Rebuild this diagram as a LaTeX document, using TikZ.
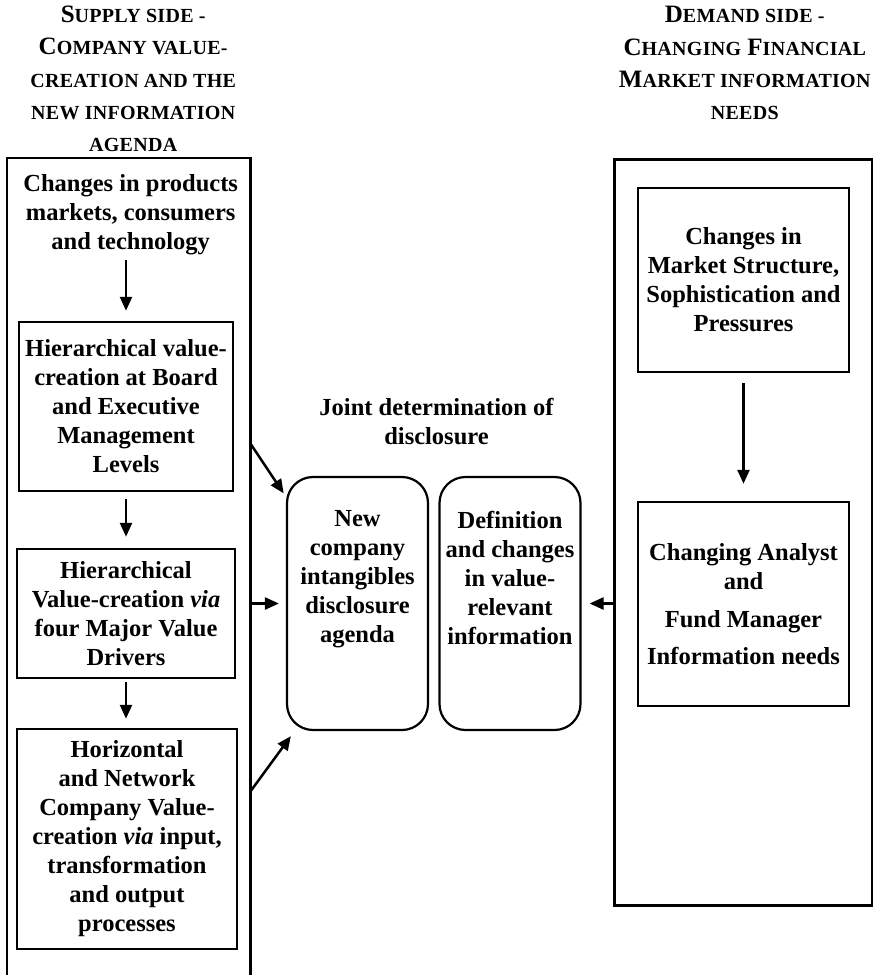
\documentclass[tikz,border=0pt]{standalone}
\usepackage{fontspec}
\setmainfont{Liberation Serif}
\usepackage{tikz}
\usetikzlibrary {arrows.meta,
                 positioning,
                 calc}
\newcommand{\capsm}[1]{{\fontsize{20pt}{32.3pt}\selectfont\addfontfeature{LetterSpace=1.5}#1}}
\tikzset{
        base/.style={align=center, inner sep=0pt,
                     font=\bfseries\fontsize{24.5pt}{29pt}\selectfont},
        head/.style={base, font=\bfseries\fontsize{25pt}{32.3pt}\selectfont},
        frame/.style={line width=2.5pt},
        proc/.style={base, draw, rectangle, line width=2.5pt},
        agenda/.style={base, draw, rounded corners=26pt, line width=2.2pt,
                       minimum width=141pt, minimum height=253pt},
        myarrow/.style={-{Triangle[length=14pt, width=12pt]}, line width=2.5pt},
 }

\begin{document}
\begin{tikzpicture}[x=1pt, y=1pt]
    \useasboundingbox (0,0) rectangle (873,-975);

    % the two sides
    \node[minimum width=243pt, minimum height=830pt, anchor=north west,
          inner sep=0pt] (supply) at (7,-158) {};
    \draw[frame] (supply.south west) |- (supply.north east) -- (supply.south east);
    \node[draw, frame, minimum width=258pt, minimum height=746pt,
          anchor=north west, inner sep=0pt] (demand) at (613,-158) {};

    \node[head, above=6pt of supply.north, xshift=4.5pt] (supplyhead)
        {S\capsm{UPPLY SIDE -}\\C\capsm{OMPANY VALUE-}\\\capsm{CREATION AND THE}\\
         \capsm{NEW INFORMATION}\\\capsm{AGENDA}};
    \node[head, above=38pt of demand.north, xshift=1.5pt] (demandhead)
        {D\capsm{EMAND SIDE -}\\C\capsm{HANGING} F\capsm{INANCIAL}\\
         M\capsm{ARKET INFORMATION}\\\capsm{NEEDS}};

    % supply side
    \node[base, below=16pt of supply.north, xshift=2pt] (prod)
        {Changes in products\\markets, consumers\\and technology};
    \node[proc, minimum width=214pt, minimum height=169pt] (hier1) at (126,-406.5)
        {Hierarchical value-\\creation at Board\\and Executive\\Management\\Levels};
    \node[proc, minimum width=218pt, minimum height=129pt] (valdrv) at (126,-613.5)
        {Hierarchical\\Value-creation \textit{via}\\four Major Value\\Drivers};
    \node[proc, minimum width=220pt, minimum height=220pt] (horiz) at (127,-839)
        {Horizontal\\and Network\\Company Value-\\creation \textit{via} input,\\
         transformation\\and output\\processes};

    % demand side
    \node[proc, minimum width=211pt, minimum height=184pt] (market) at (743.5,-280)
        {Changes in\\Market Structure,\\Sophistication and\\Pressures};
    \node[proc, minimum width=211pt, minimum height=204pt] (analyst) at (743.5,-604)
        {Changing Analyst\\and\\[9pt]Fund Manager\\[8pt]Information needs};

    % joint determination
    \node[base, anchor=north] (joint) at (436.5,-398)
        {Joint determination of\\disclosure};
    \node[agenda] (newbox) at (357.5,-603.5) {};
    \node[agenda] (defbox) at (510,-603.5) {};
    \node[base, below=34pt of newbox.north] (newtext)
        {New\\company\\intangibles\\disclosure\\agenda};
    \node[base, below=35pt of defbox.north] (deftext)
        {Definition\\and changes\\in value-\\relevant\\information};

    \coordinate (s1) at (250,-443);
    \coordinate (s3) at (250,-792);

    \draw[myarrow, shorten <=5pt, shorten >=10pt] (prod.south -| hier1.north) -- (hier1.north);
    \draw[myarrow, shorten <=7pt, shorten >=11pt] (hier1.south) -- (valdrv.north);
    \draw[myarrow, shorten <=3pt, shorten >=9pt] (valdrv.south) -- (valdrv.south |- horiz.north);
    \draw[myarrow, shorten <=10pt, shorten >=17pt] (market.south) -- (analyst.north);

    \draw[myarrow, shorten >=4pt] (s1) -- (newbox);
    \draw[myarrow, shorten >=7pt] (newbox.west -| supply.east) -- (newbox.west);
    \draw[myarrow] (s3) -- ($(newbox.south west)+(5,-5)$);
    \draw[myarrow, shorten >=8pt] (defbox.east -| demand.west) -- (defbox.east);
\end{tikzpicture}
\end{document}
